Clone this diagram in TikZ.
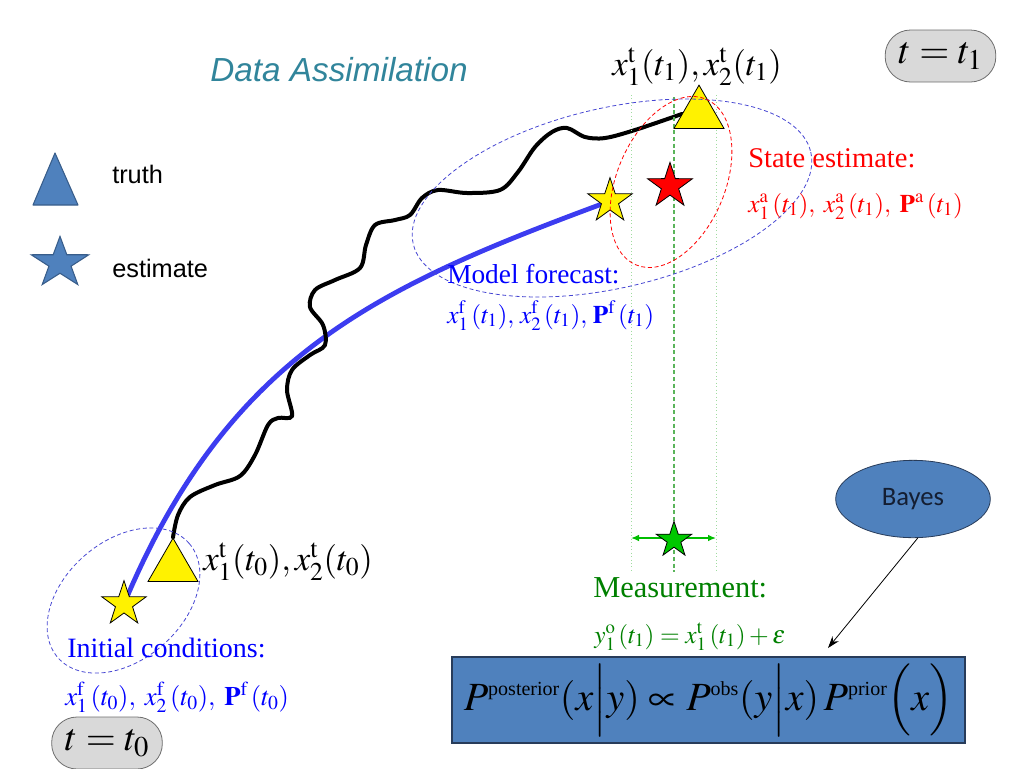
\documentclass[tikz,border=0pt]{standalone}
\usepackage{amsmath}
\usepackage{mathptmx}
\usepackage{fontspec}
\setmainfont{Liberation Serif}
\setsansfont{Liberation Sans}
\newfontfamily\calib{Carlito}
\usetikzlibrary{shapes.geometric,arrows.meta}
\pgfdeclarelayer{bg}
\pgfsetlayers{bg,main}
\definecolor{titlec}{RGB}{49,133,155}
\definecolor{legfill}{RGB}{79,129,189}
\definecolor{legline}{RGB}{56,93,138}
\definecolor{fcblue}{RGB}{60,60,240}
\definecolor{dashblue}{RGB}{70,70,210}
\definecolor{txtblue}{RGB}{0,0,255}
\definecolor{mgreen}{RGB}{0,128,0}
\definecolor{sgreen}{RGB}{0,200,0}
\definecolor{agreen}{RGB}{0,190,0}
\definecolor{dotgreen}{RGB}{160,220,160}
\definecolor{dashgreen}{RGB}{90,180,90}
\definecolor{grayfill}{RGB}{217,217,217}
\definecolor{grayline}{RGB}{110,110,110}
\definecolor{boxline}{RGB}{40,60,90}
\definecolor{bayestxt}{RGB}{20,30,50}
\newcommand{\supt}[1]{\mbox{\fontsize{15}{15}\selectfont #1}}
\begin{document}
\begin{tikzpicture}[x=0.75pt,y=-0.75pt,
  txt/.style={inner sep=0pt, anchor=base west},
  ytri/.style={regular polygon, regular polygon sides=3, draw=black, fill=yellow, line width=0.6pt, inner sep=0pt, minimum size=43.3pt},
  starbase/.style={star, star points=5, star point ratio=2.6, draw=black, line width=0.6pt, inner sep=0pt},
  ystar/.style={starbase, fill=yellow, minimum size=35pt},
  graybox/.style={rectangle, rounded corners=19pt, draw=grayline, fill=grayfill, line width=0.6pt, minimum width=83pt, minimum height=39pt, inner sep=0pt, font=\fontsize{29}{34}\selectfont},
  bluedash/.style={draw=dashblue, line width=0.6pt, dash pattern=on 3pt off 2pt},
  reddash/.style={draw=red, line width=0.6pt, dash pattern=on 3pt off 2pt},
  greendot/.style={draw=dotgreen, line width=0.6pt, dotted},
  greendash/.style={draw=dashgreen, line width=1.1pt, dash pattern=on 3pt off 2pt},
]
\useasboundingbox (0,0) rectangle (1024,768);

% title and legend
\node[txt, font=\sffamily\itshape\fontsize{25}{30}\selectfont, text=titlec] (title) at (210,81) {Data Assimilation};
\draw[fill=legfill, draw=legline, line width=0.8pt, line join=round] (55,153) -- (78,205) -- (33,205) -- cycle;
\node[starbase, fill=legfill, draw=legline, line width=0.8pt, minimum size=42pt, xscale=1.08, yscale=0.95] (legstar) at (60,263) {};
\node[txt, font=\sffamily\fontsize{19}{23}\selectfont] (truth) at (112,183) {truth};
\node[txt, font=\sffamily\fontsize{19}{23}\selectfont] (estimate) at (112,277) {estimate};

% truth and estimate markers
\node[ytri] (tri0) at (173,567) {};
\node[ytri] (tri1) at (699,114) {};
\node[ystar] (s0) at (124,604) {};
\node[ystar] (s1) at (610,201) {};
\node[starbase, fill=red, minimum size=35.5pt] (sa) at (670,186) {};
\node[starbase, fill=sgreen, minimum size=28pt] (so) at (674,540) {};

% trajectories (background)
\begin{pgfonlayer}{bg}
\draw[fcblue, line width=3.6pt] (s0.center) .. controls (229,353) and (380,286) .. (s1.center);
\draw[black, line width=3pt, line cap=round] plot[smooth, tension=0.55] coordinates {
 (tri0.corner 1) (178,515) (190,497) (215,485) (240,476) (255,455) (268,425) (278,418) (292,416)
 (287,390) (292,370) (310,355) (325,345) (323,325) (310,307) (315,290) (335,280) (360,268)
 (366,245) (375,225) (395,220) (410,215) (422,198) (438,190) (467,193) (500,190) (518,172)
 (535,147) (552,132) (567,128) (585,137) (605,138) (635,130) (tri1.west)};
\coordinate (gl1a) at (631,95);  \coordinate (gl1b) at (631,570);
\coordinate (gl2a) at (716,95);  \coordinate (gl2b) at (716,570);
\coordinate (gl3a) at (674,97);  \coordinate (gl3b) at (674,572);
\draw[greendot] (gl1a) -- (gl1b);
\draw[greendot] (gl2a) -- (gl2b);
\draw[greendash] (gl3a) -- (gl3b);
\coordinate (erL) at (631,538); \coordinate (erR) at (716,538);
\draw[agreen, line width=1.1pt, {Latex[length=6pt,width=5pt]}-{Latex[length=6pt,width=5pt]}] (erL) -- (erR);
\end{pgfonlayer}

% uncertainty ellipses
\draw[bluedash, rotate around={13:(612,198)}] (612,198) ellipse (204 and 90);
\draw[reddash, rotate around={67:(671,182)}] (671,182) ellipse (90 and 54);
\draw[bluedash, rotate around={41:(123.5,600.5)}] (123.5,600.5) ellipse (87 and 59.4);

% labels
\node[txt, font=\fontsize{26}{30}\selectfont] (lt1) at (612,75) {$x_1^{\mathrm{t}}(t_1), x_2^{\mathrm{t}}(t_1)$};
\node[txt, font=\fontsize{26}{30}\selectfont] (lt0) at (203,570) {$x_1^{\mathrm{t}}(t_0), x_2^{\mathrm{t}}(t_0)$};
\node[txt, text=txtblue, font=\fontsize{21}{25}\selectfont] (ic) at (67,657) {Initial conditions:};
\node[txt, text=txtblue, font=\fontsize{20}{24}\selectfont] (icf) at (65,705) {$x_1^{\mathrm{f}}\,(t_0),\; x_2^{\mathrm{f}}\,(t_0),\; \mathbf{P}^{\mathrm{f}}\,(t_0)$};
\node[txt, text=txtblue, font=\fontsize{20.5}{25}\selectfont] (mf) at (447,283) {Model forecast:};
\node[txt, text=txtblue, font=\fontsize{19}{23}\selectfont] (mff) at (447,323) {$x_1^{\mathrm{f}}\,(t_1),\, x_2^{\mathrm{f}}\,(t_1),\, \mathbf{P}^{\mathrm{f}}\,(t_1)$};
\node[txt, text=red, font=\fontsize{21.4}{25}\selectfont] (se) at (748,167) {State estimate:};
\node[txt, text=red, font=\fontsize{19}{23}\selectfont] (sef) at (748,212) {$x_1^{\mathrm{a}}\,(t_1),\; x_2^{\mathrm{a}}\,(t_1),\; \mathbf{P}^{\mathrm{a}}\,(t_1)$};
\node[txt, text=mgreen, font=\fontsize{22.8}{27}\selectfont] (me) at (593,597) {Measurement:};
\node[txt, text=mgreen, font=\fontsize{19}{23}\selectfont] (mef) at (594,643) {$y_1^{\mathrm{o}}\,(t_1) = x_1^{\mathrm{t}}\,(t_1) + \varepsilon$};

% time boxes
\node[graybox] (b1) at (940.5,56) {$t=t_1$};
\node[graybox] (b0) at (107,743) {$t=t_0$};

% Bayes
\node[ellipse, draw=boxline, fill=legfill, line width=0.6pt, minimum width=116pt, minimum height=58pt, text=bayestxt, font=\calib\fontsize{20}{24}\selectfont] (bayes) at (913,499) {Bayes};
\node[rectangle, draw=boxline, fill=legfill, line width=0.8pt, minimum width=384.75pt, minimum height=64.5pt, inner sep=0pt, font=\fontsize{30}{34}\selectfont] (bbox) at (708.5,700)
 {$P^{\supt{posterior}}(x\Big|y) \propto P^{\supt{obs}}(y\Big|x)\,P^{\supt{prior}}\Big(x\Big)$};
\coordinate (btip) at (828,648);
\draw[black, line width=0.6pt, -{Stealth[length=9pt,width=6pt]}] (bayes.-83) -- (btip);
\end{tikzpicture}
\end{document}
